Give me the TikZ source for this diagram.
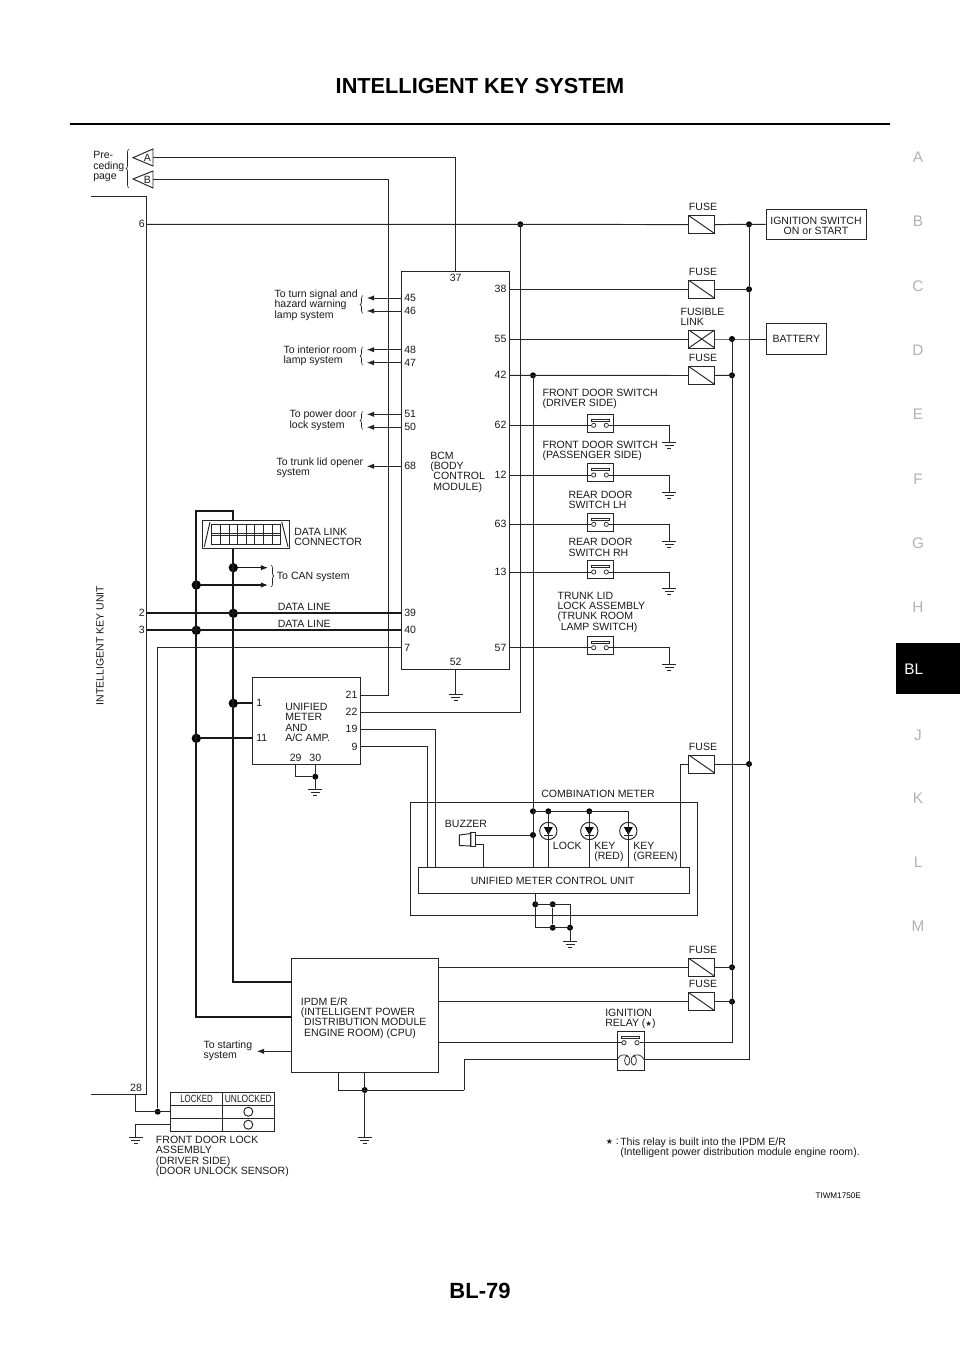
\documentclass[tikz,border=0pt]{standalone}
\usepackage{fontspec}
\usepackage{graphicx}
\setmainfont{Liberation Sans}
\newfontfamily\symfont{DejaVu Sans}
\usetikzlibrary{arrows.meta,decorations.pathreplacing}

\tikzset{
    lbl/.style={font=\fontsize{7.9}{7.75}\selectfont, text=black!90, inner sep=0pt, align=left},
    midlbl/.style={lbl, align=center},
    wire/.style={draw=black!85, line width=0.72pt},
    thickwire/.style={draw=black!90, line width=1.6pt},
    toarrow/.style={wire, -{Latex[length=5.5pt,width=4pt]}},
    wh/.style 2 args={minimum width=#1*0.75pt, minimum height=#2*0.75pt, inner sep=0pt},
    boxnode/.style={draw=black!85, line width=0.72pt},
    dot/.style={circle, fill=black, inner sep=0pt, minimum size=4.5pt},
    bigdot/.style={circle, fill=black, inner sep=0pt, minimum size=7pt},
    contact/.style={circle, draw=black!85, line width=0.55pt, fill=white, inner sep=0pt, minimum size=3.2pt},
    fusebox/.style={boxnode, wh={26}{18}, path picture={
        \draw[wire] (path picture bounding box.north west) -- (path picture bounding box.south east);}},
    linkbox/.style={boxnode, wh={26}{18}, path picture={
        \draw[wire] (path picture bounding box.north west) -- (path picture bounding box.south east);
        \draw[wire] (path picture bounding box.south west) -- (path picture bounding box.north east);}},
    sidelbl/.style={font=\fontsize{11.5}{12}\selectfont, text=black!30, inner sep=0pt},
    curly/.style={draw=black!85, line width=0.5pt, decorate, decoration={brace, amplitude=2.2pt}},
    earth/.pic={
        \draw[wire] (-7,0) -- (7,0);
        \draw[wire] (-4.5,3) -- (4.5,3);
        \draw[wire] (-2,6) -- (2,6);
    }
}

% door switch: name, wire y
\newcommand{\doorswitch}[2]{
    \node[boxnode, wh={26.4}{18}] (#1) at (600.5,{#2-2.2}) {};
    \node[contact] (#1a) at (593.7,#2) {};
    \node[contact] (#1b) at (606.3,#2) {};
    \draw[wire, line width=0.55pt] (591.7,{#2-6.3}) rectangle (609,{#2-4.2});
}

% lamp of the combination meter: name, x
\newcommand{\ledlamp}[2]{
    \node[circle, boxnode, minimum size=13pt, inner sep=0pt] (#1) at (#2,831) {};
    \fill[black] ({#2-4.5},827) -- ({#2+4.5},827) -- (#2,835) -- cycle;
    \draw[wire] ({#2-4.5},835.5) -- ({#2+4.5},835.5);
}

\begin{document}
\begin{tikzpicture}[x=0.75pt, y=-0.75pt]
    \useasboundingbox (0,0) rectangle (960,1358);

    % Page
    \node[font=\fontsize{16.3}{18}\bfseries\selectfont, inner sep=0pt] (pagetitle) at (480,86) {INTELLIGENT KEY SYSTEM};
    \node[font=\fontsize{16.5}{18}\bfseries\selectfont, inner sep=0pt] (pagenumber) at (480,1291) {BL-79};
    \coordinate (ruleL) at (70,124);
    \coordinate (ruleR) at (890,124);
    \draw[line width=2.2pt] (ruleL) -- (ruleR);
    \foreach \t/\y in {A/157, B/221, C/286, D/350, E/414, F/479, G/543, H/607, J/735, K/798, L/862, M/926}
        \node[sidelbl] (side\t) at (918,\y) {\t};
    \node[fill=black, minimum width=48pt, minimum height=38.2pt, inner sep=0pt] (tabbox) at (928,668.6) {};
    \node[font=\fontsize{11.5}{12}\selectfont, text=white, inner sep=0pt, anchor=west] (tabtext) at (904,669.6) {BL};
    \node[font=\fontsize{6.1}{7}\selectfont, inner sep=0pt, anchor=east] (figcode) at (861,1196) {TIWM1750E};

    % Control units
    \node[boxnode, wh={108}{397.6}] (bcm) at (455.35,470.5) {};
    \node[boxnode, wh={108}{86.3}] (meter) at (306.7,720.85) {};
    \node[boxnode, wh={146.6}{114.4}] (ipdm) at (365,1015.5) {};
    \node[boxnode, wh={287.3}{112.6}] (combi) at (553.65,859) {};
    \node[boxnode, wh={270.7}{26}] (umcu) at (553.65,880.7) {};
    \node[boxnode, wh={100}{30}] (ignsw) at (816,224.3) {};
    \node[boxnode, wh={60.7}{30.3}] (battery) at (796.35,339) {};
    \node[midlbl] (ignswtext) at (816,225.6) {IGNITION SWITCH\\ON or START};
    \node[midlbl] (batterytext) at (796.35,339) {BATTERY};
    \node[midlbl] (umcutext) at (552.7,880.7) {UNIFIED METER CONTROL UNIT};
    \node[lbl, anchor=west] (bcmtext) at (430,472) {BCM\\(BODY\\\hspace*{2.4pt}CONTROL\\\hspace*{2.4pt}MODULE)};
    \node[lbl, anchor=west] (metertext) at (285,722.5) {UNIFIED\\METER\\AND\\A/C AMP.};
    \node[lbl, anchor=west] (ipdmtext) at (300.7,1018) {IPDM E/R\\(INTELLIGENT POWER\\\hspace*{2.4pt}DISTRIBUTION MODULE\\\hspace*{2.4pt}ENGINE ROOM) (CPU)};

    % BCM pins
    \foreach \n/\y in {45/298, 46/311, 48/349.7, 47/362.7, 51/414.3, 50/427.3, 68/466.3, 39/613.3, 40/630.3, 7/647.7} {
        \coordinate (p\n) at (401.3,\y);
        \node[lbl, anchor=west] (pin\n) at (404,\y) {\n};
    }
    \foreach \n/\y in {38/289.3, 55/339, 42/375.3, 62/425.3, 12/475, 63/524.3, 13/572, 57/647.7} {
        \coordinate (p\n) at (509.5,\y);
        \node[lbl, anchor=east] (pin\n) at (506.7,\y) {\n};
    }
    \coordinate (p37) at (455.7,271.7);
    \coordinate (p52) at (455.7,669.3);
    \node[lbl] (pin37) at (455.7,278) {37};
    \node[lbl] (pin52) at (455.7,662) {52};

    % Meter pins
    \foreach \n/\y in {21/695, 22/712, 19/729.3, 9/746.7} {
        \coordinate (m\n) at (360.7,\y);
        \node[lbl, anchor=east] (mpin\n) at (357.7,\y) {\n};
    }
    \coordinate (m1) at (252.7,703.3);
    \coordinate (m11) at (252.7,738.3);
    \coordinate (m29) at (295.7,764);
    \coordinate (m30) at (315.3,764);
    \node[lbl, anchor=west] (mpin1) at (256,703.3) {1};
    \node[lbl, anchor=west] (mpin11) at (256,738.3) {11};
    \node[lbl] (mpin29) at (295.7,757.7) {29};
    \node[lbl] (mpin30) at (315.3,757.7) {30};

    % Fuses
    \node[fusebox] (fuse1) at (701.7,224.6) {};
    \node[fusebox] (fuse2) at (701.7,289.3) {};
    \node[linkbox] (flink) at (701.7,339) {};
    \node[fusebox] (fuse3) at (701.7,375.5) {};
    \node[fusebox] (fuse4) at (701.7,764) {};
    \node[fusebox] (fuse5) at (701.7,967.3) {};
    \node[fusebox] (fuse6) at (701.7,1001.7) {};
    \foreach \n/\y in {1/207, 2/272, 3/358, 4/746.7, 5/950, 6/984}
        \node[midlbl] (fusetext\n) at (703,\y) {FUSE};
    \node[lbl, anchor=west] (flinktext) at (680.3,316.6) {FUSIBLE\\LINK};

    % Junctions
    \node[dot] (j6) at (520.3,224.3) {};
    \node[dot] (jign) at (749,224.3) {};
    \node[dot] (jf2) at (749,289.3) {};
    \node[dot] (jf4) at (749,764) {};
    \node[dot] (jbat) at (732,339) {};
    \node[dot] (jf3) at (732,375.3) {};
    \node[dot] (jf5) at (732,967.3) {};
    \node[dot] (jf6) at (732,1001.7) {};
    \node[dot] (j42) at (533,375.3) {};
    \node[dot] (jtop) at (533,811.3) {};
    \node[dot] (jbuz) at (533,835) {};
    \node[dot] (jlock) at (548.3,811.3) {};
    \node[dot] (jred) at (589.3,811.3) {};
    \node[dot] (jg1) at (535.3,904.3) {};
    \node[dot] (jg2) at (552.7,904.3) {};
    \node[dot] (jg3) at (552.7,927.7) {};
    \node[dot] (jg4) at (570,927.7) {};
    \node[dot] (jm30) at (315.3,776.7) {};
    \node[dot] (jipdm) at (364.7,1090) {};
    \node[dot] (jdoor) at (157.7,1111.7) {};
    \node[bigdot] (jcan1) at (233.3,567.7) {};
    \node[bigdot] (jcan2) at (196.3,585) {};
    \node[bigdot] (jd2) at (233.3,613.3) {};
    \node[bigdot] (jd3) at (196.3,630.3) {};
    \node[bigdot] (jm1) at (233.3,703.3) {};
    \node[bigdot] (jm11) at (196.3,738.3) {};

    % Grounds
    \foreach \n/\x/\y in {a/669.3/442.3, b/669.3/492, c/669.3/541.7, d/669.3/588.7, e/669.3/664, f/455.7/694.3, g/315.3/789.3, h/570/941, i/364.7/1137, k/135.7/1137} {
        \coordinate (gnd\n) at (\x,\y);
        \pic at (gnd\n) {earth};
    }

    % Preceding page
    \coordinate (triA) at (133,157.7);
    \coordinate (triB) at (133,179);
    \draw[wire] (triA) -- (153,149) -- (153,166) -- cycle;
    \draw[wire] (triB) -- (153,171) -- (153,188) -- cycle;
    \node[lbl] (triAtext) at (147.5,158) {A};
    \node[lbl] (triBtext) at (147.5,179.5) {B};
    \coordinate (outA) at (153,157.7);
    \coordinate (outB) at (153,179);
    \coordinate (cornerB) at (388.7,695);
    \draw[wire] (outA) -| (p37);
    \draw[wire] (outB) -| (cornerB) -- (m21);
    \draw[curly] (129,188) -- (129,149);
    \node[lbl, anchor=west] (prepage) at (93,166.8) {Pre-\\ceding\\page};

    % Intelligent key unit
    \coordinate (iku1) at (90.7,196.7);
    \coordinate (iku2) at (146.7,196.7);
    \coordinate (iku3) at (146.7,1094.3);
    \coordinate (iku4) at (90.7,1094.3);
    \draw[wire] (iku1) -- (iku2) -- (iku3) -- (iku4);
    \node[lbl, rotate=90] (ikutext) at (100,645.7) {INTELLIGENT KEY UNIT};
    \node[lbl] (pin6) at (141.7,224.3) {6};
    \node[lbl] (pin2) at (141.7,613.3) {2};
    \node[lbl] (pin3) at (141.7,630.3) {3};
    \node[lbl] (pin28) at (136,1088.3) {28};
    \coordinate (k6) at (146.7,224.3);
    \coordinate (k2) at (146.7,613.3);
    \coordinate (k3) at (146.7,630.3);
    \coordinate (k28) at (135.7,1094.3);

    % Wires, upper right
    \draw[wire] (k6) -- (j6.center) -- (fuse1.west);
    \draw[wire] (fuse1.east) -- (jign.center) -- (ignsw.west);
    \draw[wire] (j6.center) |- (m22);
    \draw[wire] (p38) -- (fuse2.west);
    \draw[wire] (fuse2.east) -- (jf2.center);
    \draw[wire] (p55) -- (flink.west);
    \draw[wire] (flink.east) -- (jbat.center) -- (battery.west);
    \draw[wire] (p42) -- (fuse3.west);
    \draw[wire] (fuse3.east) -- (jf3.center);

    % Door switches
    \doorswitch{sw62}{425.3}
    \doorswitch{sw12}{475}
    \doorswitch{sw63}{524.3}
    \doorswitch{sw13}{572}
    \doorswitch{sw57}{647.7}
    \foreach \n/\g in {62/a, 12/b, 63/c, 13/d, 57/e} {
        \draw[wire] (p\n) -- (sw\n a);
        \draw[wire] (sw\n b) -| (gnd\g);
    }
    \node[lbl, anchor=west] (swtext1) at (542.3,399) {FRONT DOOR SWITCH\\(DRIVER SIDE)};
    \node[lbl, anchor=west] (swtext2) at (542.3,450.7) {FRONT DOOR SWITCH\\(PASSENGER SIDE)};
    \node[lbl, anchor=west] (swtext3) at (568.3,500) {REAR DOOR\\SWITCH LH};
    \node[lbl, anchor=west] (swtext4) at (568.3,547.5) {REAR DOOR\\SWITCH RH};
    \node[lbl, anchor=west] (swtext5) at (557.3,612) {TRUNK LID\\LOCK ASSEMBLY\\(TRUNK ROOM\\\hspace*{2.4pt}LAMP SWITCH)};

    % Outputs on the left of the BCM
    \foreach \n in {45, 46, 48, 47, 51, 50, 68} {
        \coordinate (tip\n) at (366.7,0 |- p\n);
        \draw[toarrow] (p\n) -- (tip\n);
    }
    \draw[curly] (363,313.5) -- (363,295.5);
    \draw[curly] (363,365) -- (363,347);
    \draw[curly] (363,429.5) -- (363,411.5);
    \node[lbl, anchor=west] (outtext1) at (274.3,305) {To turn signal and\\hazard warning\\lamp system};
    \node[lbl, anchor=west] (outtext2) at (283.3,355.8) {To interior room\\lamp system};
    \node[lbl, anchor=west] (outtext3) at (289.3,420.4) {To power door\\lock system};
    \node[lbl, anchor=west] (outtext4) at (276.3,467.8) {To trunk lid opener\\system};

    % Data link connector
    \node[boxnode, wh={87}{28.3}] (dlc) at (245.8,534.15) {};
    \draw[wire] (210,522) -- (204.3,546.7);
    \draw[wire] (281.7,522) -- (288,546.7);
    \draw[wire] (211.7,524.3) rectangle (280.7,544);
    \draw[wire] (211.7,533.7) -- (280.7,533.7);
    \draw[wire] (211.7,535.2) -- (280.7,535.2);
    \foreach \x in {220.3, 228.9, 237.5, 246.2, 254.8, 263.4, 272}
        \draw[wire, line width=0.55pt] (\x,524.3) -- (\x,544);
    \node[lbl, anchor=west] (dlctext) at (294,536.6) {DATA LINK\\CONNECTOR};
    \coordinate (topL) at (196.3,511.3);
    \coordinate (topR) at (233.3,511.3);
    \coordinate (ipdmL) at (291.7,1017);
    \coordinate (ipdmR) at (291.7,982);
    \draw[thickwire] (dlc.north -| topR) -- (topR) -- (topL) |- (ipdmL);
    \draw[thickwire] (dlc.south -| topR) |- (ipdmR);

    % CAN and data lines
    \coordinate (tipcan1) at (268.3,567.7);
    \coordinate (tipcan2) at (268.3,585);
    \draw[thickwire, line width=1.1pt, -{Latex[length=5.5pt,width=4pt]}] (jcan1) -- (tipcan1);
    \draw[thickwire, line width=1.1pt, -{Latex[length=5.5pt,width=4pt]}] (jcan2) -- (tipcan2);
    \draw[curly] (271,565) -- (271,587);
    \node[lbl, anchor=west] (cantext) at (276.7,577) {To CAN system};
    \draw[thickwire] (k2) -- (p39);
    \draw[thickwire] (k3) -- (p40);
    \node[midlbl] (dltext1) at (304.3,606.7) {DATA LINE};
    \node[midlbl] (dltext2) at (304.3,623.7) {DATA LINE};
    \draw[thickwire] (jm1) -- (m1);
    \draw[thickwire] (jm11) -- (m11);

    % Door lock assembly
    \draw[wire] (p7) -| (jdoor);
    \node[boxnode, wh={103.3}{38.7}] (locktable) at (222.35,1111.65) {};
    \coordinate (lockA) at (170.7,1111.7);
    \coordinate (lockB) at (170.7,1124.7);
    \draw[wire] (k28) |- (lockA);
    \draw[wire] (lockB) -| (gndk);
    \draw[wire] (170.7,1105.7) -- (274,1105.7);
    \draw[wire] (170.7,1118.3) -- (274,1118.3);
    \draw[wire] (222.3,1092.3) -- (222.3,1131);
    \node[lbl] (locktext) at (196.5,1099) {\scalebox{0.75}[1]{LOCKED}};
    \node[lbl] (unlocktext) at (248.3,1099) {\scalebox{0.8}[1]{UNLOCKED}};
    \node[circle, boxnode, minimum size=6.8pt, inner sep=0pt] (lockc1) at (248.3,1111.7) {};
    \node[circle, boxnode, minimum size=6.8pt, inner sep=0pt] (lockc2) at (248.3,1124.7) {};
    \node[lbl, anchor=west] (locktitle) at (155.7,1156.3) {FRONT DOOR LOCK\\ASSEMBLY\\(DRIVER SIDE)\\(DOOR UNLOCK SENSOR)};

    % Meter to combination meter
    \draw[wire] (p52) -- (gndf);
    \draw[wire] (m29) |- (jm30);
    \draw[wire] (m30) -- (gndg);
    \draw[wire] (m19) -| (435.7,0 |- umcu.north);
    \draw[wire] (m9) -| (427.3,0 |- umcu.north);

    % Combination meter
    \node[midlbl] (combitext) at (598,794.3) {COMBINATION METER};
    \ledlamp{ledlock}{548.3}
    \ledlamp{ledred}{589.3}
    \ledlamp{ledgreen}{628.3}
    \coordinate (topG) at (628.3,811.3);
    \draw[wire] (j42.center) -- (umcu.north -| j42);
    \draw[wire] (jtop.center) -- (topG);
    \draw[wire] (jlock.center) -- (umcu.north -| jlock);
    \draw[wire] (jred.center) -- (umcu.north -| jred);
    \draw[wire] (topG) -- (umcu.north -| topG);
    \node[lbl, anchor=west] (locklamp) at (552.7,846) {LOCK};
    \node[lbl, anchor=west] (redlamp) at (594,852.2) {KEY\\(RED)};
    \node[lbl, anchor=west] (greenlamp) at (633,852.2) {KEY\\(GREEN)};
    \draw[wire] (fuse4.west) -| (680,0 |- umcu.north);
    \draw[wire] (fuse4.east) -- (jf4.center);

    % Buzzer
    \node[midlbl] (buzzertext) at (466,824.3) {BUZZER};
    \draw[wire] (459.3,835) -- (471,833.5) -- (471,846) -- (459.3,845.5) -- cycle;
    \node[boxnode, wh={4.5}{14}] (buzzer) at (473.2,839.7) {};
    \coordinate (buzA) at (475.5,835);
    \coordinate (buzB) at (475.5,844);
    \coordinate (buzC) at (483.3,867.7);
    \draw[wire] (buzA) -- (jbuz);
    \draw[wire] (buzB) -| (buzC);

    % Ground of the unit
    \coordinate (umcuG) at (535.3,893.7);
    \coordinate (botL) at (535.3,927.7);
    \coordinate (topG4) at (570,904.3);
    \draw[wire] (umcuG) -- (jg1.center) -- (botL) -- (jg4.center) -- (topG4) -- (jg1.center);
    \draw[wire] (jg2) -- (jg3);
    \draw[wire] (jg4.center) -- (gndh);

    % IPDM
    \coordinate (ipdm1) at (438.3,967.3);
    \coordinate (ipdm2) at (438.3,1001.7);
    \coordinate (ipdm3) at (438.3,1042.7);
    \coordinate (ipdm4) at (338.3,1072.7);
    \coordinate (ipdm5) at (364.7,1072.7);
    \coordinate (ipdm6) at (291.7,1051.3);
    \coordinate (tipstart) at (256.7,1051.3);
    \draw[wire] (ipdm1) -- (fuse5.west);
    \draw[wire] (fuse5.east) -- (jf5.center);
    \draw[wire] (ipdm2) -- (fuse6.west);
    \draw[wire] (fuse6.east) -- (jf6.center);
    \draw[toarrow] (ipdm6) -- (tipstart);
    \node[lbl, anchor=west] (starttext) at (203.3,1051) {To starting\\system};
    \draw[wire] (ipdm5) -- (gndi);

    % Ignition relay
    \node[boxnode, wh={26.7}{39}] (relay) at (630.7,1051.2) {};
    \node[contact] (relayA) at (624,1042.7) {};
    \node[contact] (relayB) at (637,1042.7) {};
    \draw[wire, line width=0.55pt] (621.7,1036.5) rectangle (639.3,1038.6);
    \coordinate (coilL) at (617.3,1059.5);
    \coordinate (coilR) at (644,1059.5);
    \coordinate (powA) at (732,1042.7);
    \coordinate (powB) at (749,1059.5);
    \coordinate (retA) at (464.3,1090);
    \draw[wire] (ipdm3) -- (relayA);
    \draw[wire] (relayB) -- (powA);
    \draw[wire] (coilR) -- (powB);
    \draw[wire] (jbat.center) -- (jf3.center) -- (jf5.center) -- (jf6.center) -- (powA);
    \draw[wire] (jign.center) -- (jf2.center) -- (jf4.center) -- (powB);
    \draw[wire] (coilL) -| (retA);
    \draw[wire] (retA) -- (jipdm.center) -| (ipdm4);
    \draw[wire, line width=0.55pt] (coilL) .. controls (620,1054) and (624,1054) .. (628,1056);
    \draw[wire, line width=0.55pt] (coilR) .. controls (641,1054) and (637,1054) .. (633,1056);
    \draw[wire, line width=0.55pt] (627.2,1060.5) ellipse [x radius=2.6, y radius=4.6];
    \draw[wire, line width=0.55pt] (633.8,1060.5) ellipse [x radius=2.6, y radius=4.6];
    \node[lbl, anchor=west] (relaytext) at (605,1018.8) {IGNITION\\RELAY ({\symfont\fontsize{5.5}{6}\selectfont ★})};

    % Note
    \node[lbl, anchor=west] (notemark) at (605.5,1142) {{\symfont\fontsize{6}{6}\selectfont ★} :};
    \node[lbl, anchor=west] (notetext) at (620,1148) {This relay is built into the IPDM E/R\\(Intelligent power distribution module engine room).};

\end{tikzpicture}
\end{document}
